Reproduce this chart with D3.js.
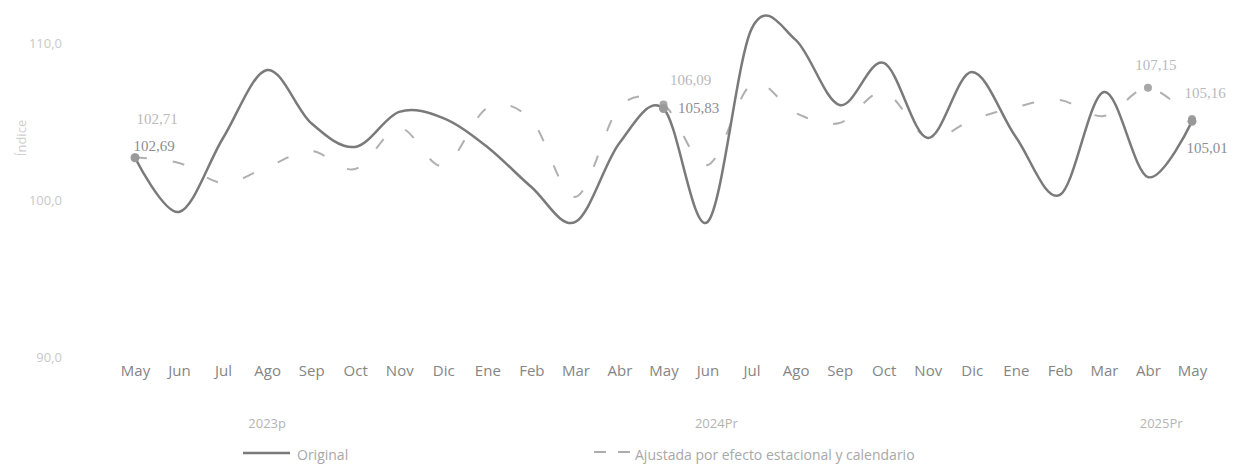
<!DOCTYPE html>
<html>
<head>
<meta charset="utf-8">
<script src="https://cdn.jsdelivr.net/npm/d3@7"></script>
<style>
  body { margin: 0; background: #fff; }
  text { font-family: "Open Sans", sans-serif; }
</style>
</head>
<body>
<div id="chart"></div>
<script>
var width = 1243, height = 473;

// months along the x axis
var months = ['May','Jun','Jul','Ago','Sep','Oct','Nov','Dic','Ene','Feb','Mar','Abr',
              'May','Jun','Jul','Ago','Sep','Oct','Nov','Dic','Ene','Feb','Mar','Abr','May'];
var years = ['2023p', '2024Pr', '2025Pr'];

// indice original
var original = [102.69, 99.24, 103.95, 108.28, 104.90, 103.38, 105.61, 105.22, 103.38, 100.83,
                98.60, 103.63, 105.83, 98.60, 110.90, 110.20, 106.05, 108.73, 103.95, 108.15,
                104.01, 100.32, 106.88, 101.46, 105.01];
// ajustada por efecto estacional y calendario
var ajustada = [102.71, 102.36, 101.08, 102.10, 103.12, 101.97, 104.59, 102.17, 105.86, 105.10,
                100.20, 105.92, 106.09, 102.23, 107.39, 105.54, 104.90, 106.88, 103.95, 105.10,
                105.92, 106.37, 105.35, 107.15, 105.16];

var yTicks = [90, 100, 110];
// which points carry a value label
var originalLabeled = [0, 12, 24];
var ajustadaLabeled = [0, 12, 23, 24];

var x = d3.scalePoint().domain(d3.range(months.length)).range([135, 1192]);
var y = d3.scaleLinear().domain([90, 110]).range([357, 43]);

var comma = function(v, n) { return d3.format('.' + n + 'f')(v).replace('.', ','); };

var svg = d3.select('#chart').append('svg')
  .attr('width', width)
  .attr('height', height);

// y axis, labels only
var yAxis = svg.append('g')
  .attr('transform', 'translate(62,0)')
  .call(d3.axisLeft(y).tickValues(yTicks).tickSize(0).tickPadding(0)
        .tickFormat(function(d) { return comma(d, 1); }));
yAxis.select('.domain').remove();
yAxis.selectAll('text')
  .attr('fill', '#c8c8c8')
  .style('font-size', '13px')
  .style('font-family', '"Open Sans", sans-serif');

svg.append('text')
  .attr('transform', 'translate(26,138) rotate(-90)')
  .attr('text-anchor', 'middle')
  .attr('fill', '#cfcfcf')
  .style('font-size', '13px')
  .text('Índice');

// x axis, labels only
var xAxis = svg.append('g')
  .attr('transform', 'translate(0,365)')
  .call(d3.axisBottom(x).tickSize(0).tickPadding(0)
        .tickFormat(function(i) { return months[i]; }));
xAxis.select('.domain').remove();
xAxis.selectAll('text')
  .attr('fill', '#858585')
  .style('font-size', '15px')
  .style('font-family', '"Open Sans", sans-serif');

// year labels under the months
var yearIdx = [3, 13.2, 23.3];
svg.selectAll('.year')
  .data(years)
  .enter()
  .append('text')
  .attr('class', 'year')
  .attr('x', function(d, i) { return x(0) + yearIdx[i] * x.step(); })
  .attr('y', 428)
  .attr('text-anchor', 'middle')
  .attr('fill', '#b4b4b4')
  .style('font-size', '13px')
  .text(function(d) { return d; });

var line = d3.line()
  .x(function(d, i) { return x(i); })
  .y(function(d) { return y(d); })
  .curve(d3.curveCardinal.tension(0));

svg.append('path')
  .datum(ajustada)
  .attr('d', line)
  .attr('fill', 'none')
  .attr('stroke', '#b0b0b0')
  .attr('stroke-width', 2)
  .attr('stroke-dasharray', '12,26');

svg.append('path')
  .datum(original)
  .attr('d', line)
  .attr('fill', 'none')
  .attr('stroke', '#7a7a7a')
  .attr('stroke-width', 2.5);

// markers
svg.selectAll('.mk-aj')
  .data(ajustadaLabeled)
  .enter()
  .append('circle')
  .attr('cx', function(i) { return x(i); })
  .attr('cy', function(i) { return y(ajustada[i]); })
  .attr('r', 4)
  .attr('fill', '#a8a8a8');

svg.selectAll('.mk-or')
  .data(originalLabeled)
  .enter()
  .append('circle')
  .attr('cx', function(i) { return x(i); })
  .attr('cy', function(i) { return y(original[i]); })
  .attr('r', 4.5)
  .attr('fill', '#999');

// value labels (offsets from the point)
var ajOffsets = { 0: [22, -33], 12: [27, -19], 23: [8, -18], 24: [13, -21] };
var orOffsets = { 0: [19, -7], 12: [35, 5], 24: [15, 32] };

svg.selectAll('.lb-aj')
  .data(ajustadaLabeled)
  .enter()
  .append('text')
  .attr('x', function(i) { return x(i) + ajOffsets[i][0]; })
  .attr('y', function(i) { return y(ajustada[i]) + ajOffsets[i][1]; })
  .attr('text-anchor', 'middle')
  .attr('fill', '#b9b9c0')
  .style('font-family', '"Liberation Serif", serif')
  .style('font-size', '15px')
  .text(function(i) { return comma(ajustada[i], 2); });

svg.selectAll('.lb-or')
  .data(originalLabeled)
  .enter()
  .append('text')
  .attr('x', function(i) { return x(i) + orOffsets[i][0]; })
  .attr('y', function(i) { return y(original[i]) + orOffsets[i][1]; })
  .attr('text-anchor', 'middle')
  .attr('fill', '#8d8d96')
  .style('font-family', '"Liberation Serif", serif')
  .style('font-size', '15px')
  .text(function(i) { return comma(original[i], 2); });

// legend
var legend = svg.append('g').attr('transform', 'translate(0,455)');
legend.append('line')
  .attr('x1', 243).attr('x2', 290).attr('y1', -2).attr('y2', -2)
  .attr('stroke', '#7a7a7a').attr('stroke-width', 2.5);
legend.append('text')
  .attr('x', 297).attr('y', 5)
  .attr('fill', '#a8a8a8')
  .style('font-size', '14px')
  .text('Original');
legend.append('line')
  .attr('x1', 594).attr('x2', 630).attr('y1', -3).attr('y2', -3)
  .attr('stroke', '#adadad').attr('stroke-width', 2)
  .attr('stroke-dasharray', '12,12');
legend.append('text')
  .attr('x', 635).attr('y', 5)
  .attr('fill', '#a8a8a8')
  .style('font-size', '14px')
  .text('Ajustada por efecto estacional y calendario');
</script>
</body>
</html>
